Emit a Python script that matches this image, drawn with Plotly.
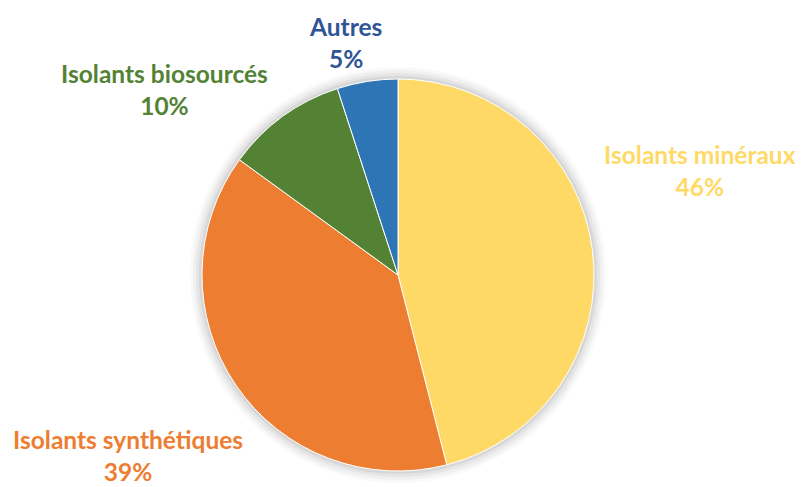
import plotly.graph_objects as go

categories = ["Isolants minéraux", "Isolants synthétiques", "Isolants biosourcés", "Autres"]
values = [46, 39, 10, 5]
slice_colors = ["#FFD966", "#ED7D31", "#548235", "#2E75B6"]
label_colors = ["#FFD966", "#ED7D31", "#548235", "#2F5597"]
pct_labels = ["46%", "39%", "10%", "5%"]

W, H = 801, 487
cx, cy, r = 398, 275, 196

fig = go.Figure()
fig.add_trace(go.Pie(
    labels=categories,
    values=values,
    sort=False,
    direction="clockwise",
    rotation=0,
    marker=dict(colors=slice_colors, line=dict(color="white", width=1)),
    textinfo="none",
    hoverinfo="label+percent",
    showlegend=False,
    domain=dict(x=[(cx - r) / W, (cx + r) / W], y=[1 - (cy + r) / H, 1 - (cy - r) / H]),
))

# soft shadow behind the pie
shapes = []
for grow, op in [(12, 0.025), (9, 0.035), (6, 0.045), (3, 0.06)]:
    rr = r + grow
    shapes.append(dict(type="circle", xref="paper", yref="paper", layer="below",
                       x0=(cx - rr) / W, x1=(cx + rr) / W,
                       y0=1 - (cy + rr) / H, y1=1 - (cy - rr) / H,
                       fillcolor=f"rgba(0,0,0,{op})", line=dict(width=0)))

# (x centre, y centre of the two-line label) in pixels; None = sit on bottom edge
label_pos = [(700, 171), (128, None), (164, 89), (345, 42)]
annotations = []
for cat, pct, col, (lx, ly) in zip(categories, pct_labels, label_colors, label_pos):
    a = dict(
        x=lx / W, xref="paper", yref="paper",
        text=f"<b>{cat}</b><br><b>{pct}</b>", showarrow=False,
        font=dict(family="Lato", size=24.5, color=col),
        align="center", xanchor="center",
    )
    if ly is None:
        a.update(y=0, yanchor="bottom", borderpad=0)
    else:
        a.update(y=1 - ly / H, yanchor="middle")
    annotations.append(a)

fig.update_layout(
    width=W, height=H,
    margin=dict(l=0, r=0, t=0, b=0),
    paper_bgcolor="white", plot_bgcolor="white",
    shapes=shapes, annotations=annotations,
)
fig.write_html("out.html", config={"displayModeBar": False},
               post_script="document.body.style.margin='0';document.body.style.overflow='hidden';")
